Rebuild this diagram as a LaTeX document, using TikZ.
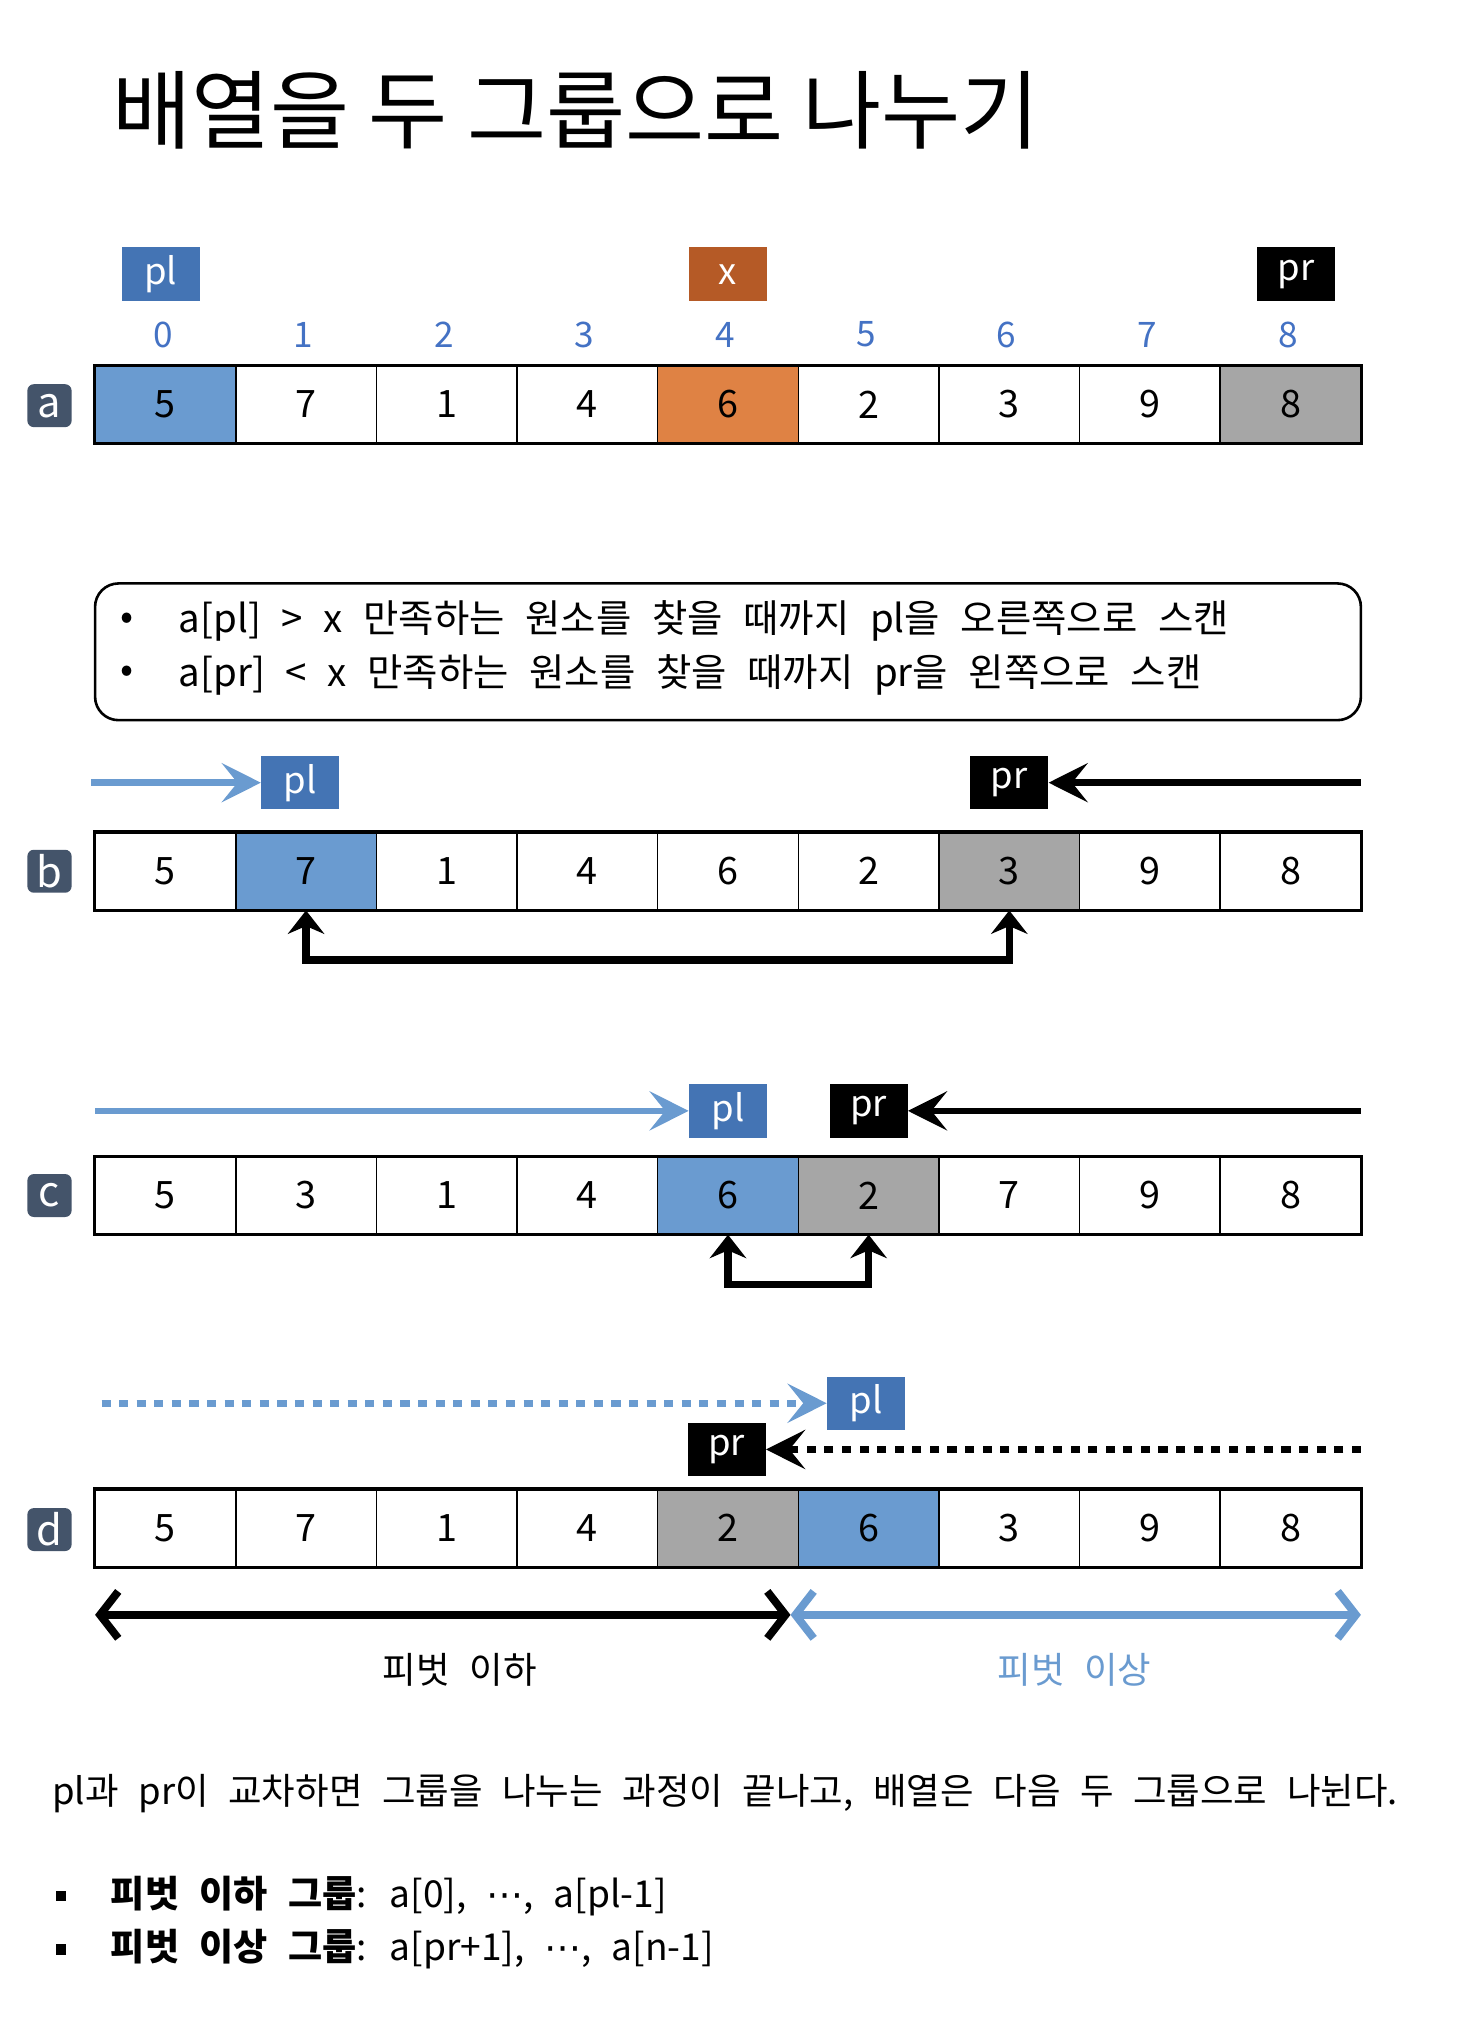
\documentclass[tikz,border=0pt]{standalone}
\usepackage{fontspec}
\setmainfont{Noto Sans CJK KR}[WordSpace=2.4]
\newfontfamily\titlefont{Noto Sans CJK KR}
\newfontfamily\symfont{DejaVu Sans}
\usetikzlibrary{arrows.meta}

\definecolor{ptrblue}{RGB}{68,116,180}
\definecolor{cellblue}{RGB}{106,155,208}
\definecolor{pivbrown}{RGB}{181,90,38}
\definecolor{pivorange}{RGB}{223,130,68}
\definecolor{cellgray}{RGB}{166,166,166}
\definecolor{idxblue}{RGB}{68,114,196}
\definecolor{tagslate}{RGB}{68,84,106}

\tikzset{
  cell/.style={draw, line width=1.2pt, minimum width=108pt, minimum height=59pt, inner sep=0pt, font=\fontsize{29}{29}\selectfont},
  ptr/.style={minimum width=60pt, minimum height=41pt, inner sep=0pt, text=white, font=\fontsize{28}{28}\selectfont},
  tag/.style={fill=tagslate, rounded corners=5pt, minimum width=34pt, minimum height=33pt, inner sep=0pt, text=white, font=\fontsize{32}{32}\selectfont},
  idx/.style={text=idxblue, inner sep=0pt, font=\fontsize{27}{27}\selectfont},
  body/.style={anchor=west, inner sep=0pt, font=\fontsize{28}{34}\selectfont},
  rule/.style={body, font=\fontsize{29.5}{34}\selectfont},
  scanblue/.style={draw=cellblue, line width=5pt, -{Stealth[length=30pt,width=30pt,inset=12pt]}},
  scanblack/.style={draw=black, line width=5pt, -{Stealth[length=30pt,width=30pt,inset=12pt]}},
  dotted line/.style={line width=5.5pt, dash pattern=on 7pt off 6.5pt},
  swaparr/.style={line width=5.5pt, {Stealth[length=18pt,width=28pt,inset=6pt]}-{Stealth[length=18pt,width=28pt,inset=6pt]}},
  rangearr/.style={line width=6pt, {Straight Barb[length=14pt,width=36pt]}-{Straight Barb[length=14pt,width=36pt]}}
}

\begin{document}
\begin{tikzpicture}[x=1pt, y=-1pt]
  %\draw[lightgray] (0, 0) grid (1120, 1568);
  \fill[white] (0,0) rectangle (1120,1568);
  \useasboundingbox (0,0) rectangle (1120,1568);

  \node[anchor=west, inner sep=0pt, font=\fontsize{66}{66}\titlefont] (title) at (86,85) {배열을 두 그룹으로 나누기};

  % row a
  \node[ptr, fill=ptrblue] (apl) at (123.5,210.5) {pl};
  \node[ptr, fill=pivbrown] (ax) at (559,210.5) {x};
  \node[ptr, fill=black] (apr) at (995,210.5) {pr};
  \foreach \i in {0,...,8}
    \node[idx] (n\i) at (125+108*\i,257) {\i};
  \foreach \v/\c [count=\i from 0] in {5/cellblue,7/white,1/white,4/white,6/pivorange,2/white,3/white,9/white,8/cellgray}
    \node[cell, fill=\c] (a\i) at (127+108*\i,310.5) {\v};
  \draw[line width=2.5pt] (a0.north west) rectangle (a8.south east);
  \node[tag] (ta) at (38,311.5) {a};

  % rule box
  \node[draw, line width=2pt, rounded corners=18pt, minimum width=972pt, minimum height=105pt] (rules) at (559,500.5) {};
  \node[rule] (r1dot) at (92,477) {•};
  \node[rule] (r1) at (137,477) {a[pl] > x 만족하는 원소를 찾을 때까지 pl을 오른쪽으로 스캔};
  \node[rule] (r2dot) at (92,518) {•};
  \node[rule] (r2) at (137,518) {a[pr] < x 만족하는 원소를 찾을 때까지 pr을 왼쪽으로 스캔};

  % row b
  \node[ptr, fill=ptrblue] (bpl) at (230.5,601) {pl};
  \node[ptr, fill=black] (bpr) at (775,601) {pr};
  \coordinate (bls) at (70,601);
  \coordinate (brs) at (1045,601);
  \draw[scanblue] (bls) -- (bpl);
  \draw[scanblack] (brs) -- (bpr);
  \foreach \v/\c [count=\i from 0] in {5/white,7/cellblue,1/white,4/white,6/white,2/white,3/cellgray,9/white,8/white}
    \node[cell, fill=\c] (b\i) at (127+108*\i,669) {\v};
  \draw[line width=2.5pt] (b0.north west) rectangle (b8.south east);
  \node[tag] (tb) at (38,669) {b};
  \draw[swaparr] (b1.south) -- ++(0,38) -| (b6.south);

  % row c
  \node[ptr, fill=ptrblue] (cpl) at (559,853) {pl};
  \node[ptr, fill=black] (cpr) at (667,853) {pr};
  \coordinate (cls) at (73,853);
  \coordinate (crs) at (1045,853);
  \draw[scanblue] (cls) -- (cpl);
  \draw[scanblack] (crs) -- (cpr);
  \foreach \v/\c [count=\i from 0] in {5/white,3/white,1/white,4/white,6/cellblue,2/cellgray,7/white,9/white,8/white}
    \node[cell, fill=\c] (c\i) at (127+108*\i,918) {\v};
  \draw[line width=2.5pt] (c0.north west) rectangle (c8.south east);
  \node[tag] (tc) at (38,918) {c};
  \draw[swaparr] (c4.south) -- ++(0,38) -| (c5.south);

  % row d
  \node[ptr, fill=ptrblue] (dpl) at (665,1077.5) {pl};
  \node[ptr, fill=black] (dpr) at (558,1113) {pr};
  \coordinate (dls) at (78,1077.5);
  \coordinate (drs) at (1045,1113);
  \draw[scanblue, dotted line] (dls) -- (dpl);
  \draw[scanblack, dotted line] (drs) -- (dpr);
  \foreach \v/\c [count=\i from 0] in {5/white,7/white,1/white,4/white,2/cellgray,6/cellblue,3/white,9/white,8/white}
    \node[cell, fill=\c] (d\i) at (127+108*\i,1173.5) {\v};
  \draw[line width=2.5pt] (d0.north west) rectangle (d8.south east);
  \node[tag] (td) at (38,1174.5) {d};

  \coordinate (gl) at (73,1240);
  \coordinate (gm) at (607,1240);
  \coordinate (gr) at (1045,1240);
  \draw[rangearr] (gl) -- (gm);
  \draw[rangearr, draw=cellblue] (gm) -- (gr);
  \node[font=\fontsize{28}{28}\selectfont] (lo) at (353,1282) {피벗 이하};
  \node[font=\fontsize{28}{28}\selectfont, text=cellblue] (hi) at (825,1282) {피벗 이상};

  % summary
  \node[body] (sum) at (40,1377) {pl과 pr이 교차하면 그룹을 나누는 과정이 끝나고, 배열은 다음 두 그룹으로 나뉜다.};
  \node[fill=black, minimum size=8pt, inner sep=0pt] (s1) at (47,1456) {};
  \node[body, font=\fontsize{28.5}{34}\selectfont] (g1) at (85,1456) {\textbf{피벗 이하 그룹}: a[0], {\symfont ⋯}, a[pl-1]};
  \node[fill=black, minimum size=8pt, inner sep=0pt] (s2) at (47,1497) {};
  \node[body, font=\fontsize{28.5}{34}\selectfont] (g2) at (85,1497) {\textbf{피벗 이상 그룹}: a[pr+1], {\symfont ⋯}, a[n-1]};
\end{tikzpicture}
\end{document}
